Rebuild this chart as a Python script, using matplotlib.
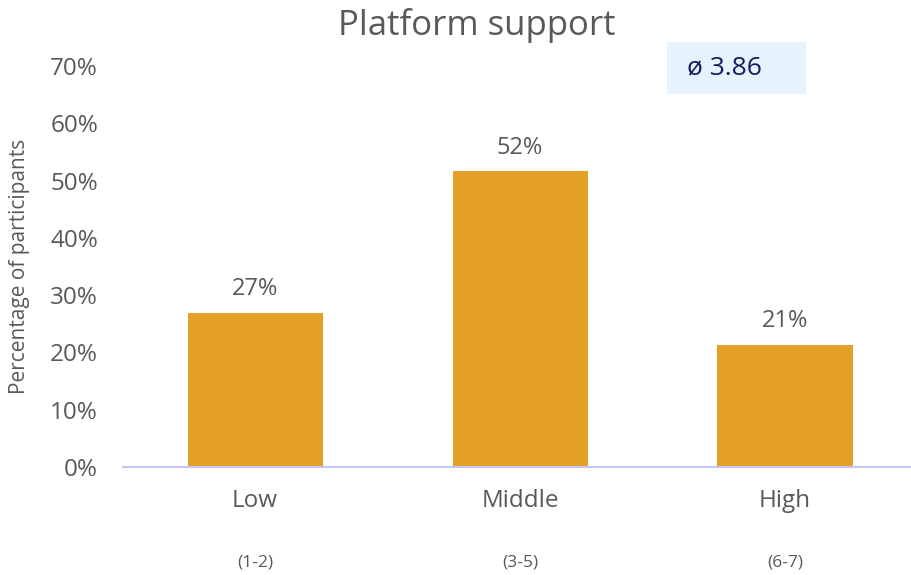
import matplotlib.pyplot as plt
from matplotlib.patches import Rectangle

categories = ['Low', 'Middle', 'High']
ranges = ['(1-2)', '(3-5)', '(6-7)']
values = [26.9, 51.6, 21.3]
average = 3.86

plt.rcParams['font.family'] = ['Open Sans', 'DejaVu Sans']
grey = '#595959'

fig = plt.figure(figsize=(9.12, 5.75), dpi=100)
ax = fig.add_axes([0.135, 0.188, 0.865, 0.697])

x = list(range(len(categories)))
bars = ax.bar(x, values, width=0.51, color='#e5a028', zorder=2)
for xi, v in zip(x, values):
    ax.text(xi, v + 2.0, f'{round(v)}%', ha='center', va='bottom', fontsize=17, color=grey)

ax.set_xlim(-0.498, 2.479)
ax.set_ylim(0, 70)
ax.set_yticks(range(0, 71, 10))
ax.set_yticklabels([f'{t}%' for t in range(0, 71, 10)], fontsize=17.5, color=grey)
ax.set_xticks(x)
ax.set_xticklabels(categories, fontsize=17.5, color=grey)
ax.tick_params(axis='both', length=0)
ax.tick_params(axis='y', pad=18)
ax.tick_params(axis='x', pad=16)

for s in ['top', 'right', 'left']:
    ax.spines[s].set_visible(False)
ax.spines['bottom'].set_color('#c5c8f5')
ax.spines['bottom'].set_linewidth(1.5)

for xi, r in zip(x, ranges):
    ax.annotate(r, xy=(xi, 0), xycoords=('data', 'axes fraction'), xytext=(0, -69),
                textcoords='offset points', ha='center', va='center', fontsize=12.5, color=grey)

ax.set_ylabel('Percentage of participants', fontsize=15, color=grey)
ax.yaxis.set_label_coords(-0.118, 0.5)

fig.text(0.523, 0.955, 'Platform support', ha='center', va='center', fontsize=25, color=grey)

fig.patches.append(Rectangle((667 / 912, 1 - 94 / 575), 139 / 912, 52 / 575,
                             transform=fig.transFigure, facecolor='#e6f3fd', edgecolor='none'))
fig.text(724 / 912, 1 - 68 / 575, f'ø {average:.2f}', ha='center', va='center',
         fontsize=19, color='#1a1a5e')

fig.savefig('out.png', dpi=100)
